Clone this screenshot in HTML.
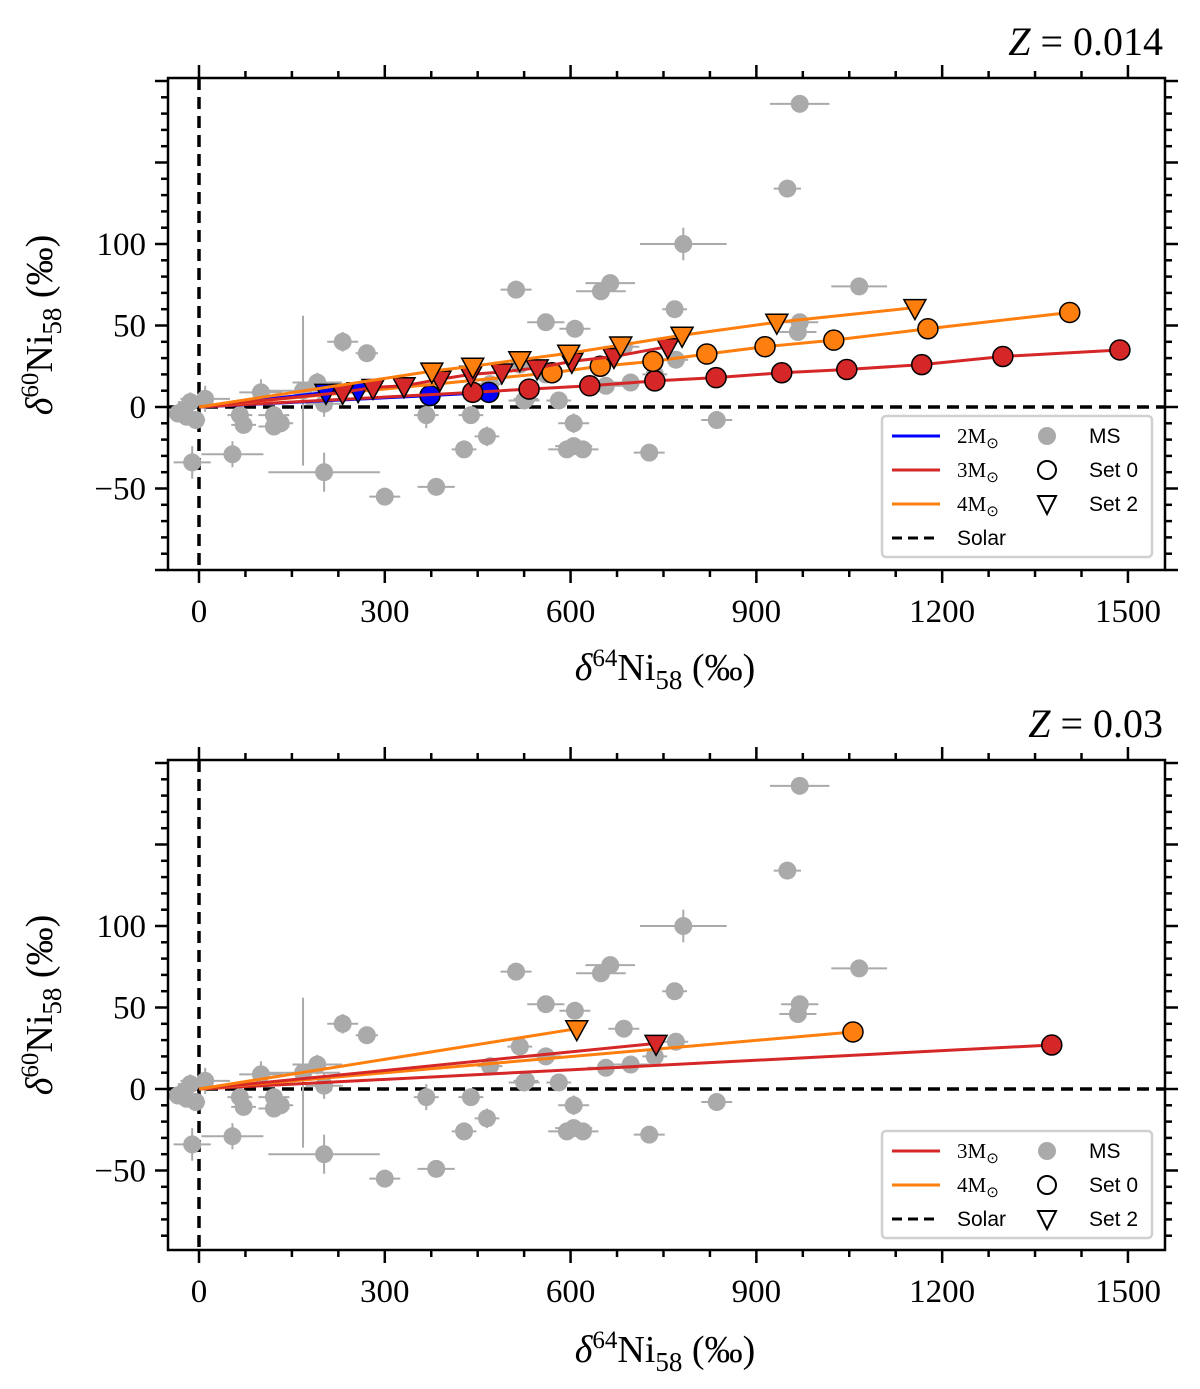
<!DOCTYPE html>
<html><head><meta charset="utf-8">
<style>
html,body{margin:0;padding:0;background:#fff;}
svg{display:block;}
.tick{font-family:"Liberation Serif",serif;font-size:33px;fill:#000;}
.lg{font-family:"Liberation Sans",sans-serif;font-size:21px;fill:#000;}
.lgs{font-family:"Liberation Serif",serif;font-size:21px;fill:#000;}
</style></head>
<body>
<svg id="fig" width="1200" height="1389" viewBox="0 0 1200 1389" xmlns="http://www.w3.org/2000/svg"></svg>
<script>
// MS grain data (shared by both panels): x, y, xerr, yerr
const msX = [970,950,782,1066,512,664,649,768,560,607,970,967,232,271,100,191,168,-14,-20,-34,66,72,121,132,121,202,-11,54,202,300,383,367,439,465,428,605,594,605,620,727,581,525,657,697,770,836,518,560,470,528,686,736,-25,-5,10];
const msY = [186,134,100,74,72,76,71,60,52,48,52,46,40,33,9,15,10,3,-6,-4,-5,-11,-12,-10,-5,2,-34,-29,-40,-55,-49,-5,-5,-18,-26,-10,-26,-24,-26,-28,4,4,13,15,29,-8,26,20,14,5,37,20,-2,-8,5];
const msXerr = [48,22,70,45,25,40,40,20,30,25,30,30,25,18,35,40,60,20,20,15,20,20,25,20,25,30,30,50,90,25,30,20,20,20,20,25,30,30,25,25,20,25,30,30,20,25,20,25,20,20,25,20,15,15,40];
const msYerr = [5,4,10,4,3,4,4,3,3,3,4,4,6,4,8,6,46,6,4,4,4,4,4,4,4,8,10,8,12,4,4,8,5,6,4,6,4,4,4,4,4,4,4,4,4,4,4,4,4,4,4,4,5,5,8];

// Panel 1 (Z = 0.014) model predictions
const p1Blue0X = [373,468];            const p1Blue0Y = [7,9];
const p1Blue2X = [205,257];            const p1Blue2Y = [9,10];
const p1Red0X = [442,533,631,736,835,941,1046,1167,1298,1487];
const p1Red0Y = [9,11,13,16,18,21,23,26,31,35];
const p1Red2X = [232,281,331,389,439,489,546,602,670,757];
const p1Red2Y = [9,12,13,17,20,21.5,24,28,31,37];
const p1Or0X = [570,648,733,820,914,1025,1177,1406];
const p1Or0Y = [21,25,28,32.5,37,41,48,58];
const p1Or2X = [376,442,518,597,681,780,933,1156];
const p1Or2Y = [22,25,29,33,38,44,52,61];

// Panel 2 (Z = 0.03)
const p2Red0X = [1377];  const p2Red0Y = [27];
const p2Red2X = [738];   const p2Red2Y = [28];
const p2Or0X = [1056];   const p2Or0Y = [35];
const p2Or2X = [610];    const p2Or2Y = [37];

const xTicks = [0,300,600,900,1200,1500];
const yTicks = [-50,0,50,100];

const NS = "http://www.w3.org/2000/svg";
const svg = document.getElementById('fig');
function mk(tag, attrs, parent){const e=document.createElementNS(NS,tag);for(const k in attrs)e.setAttribute(k,attrs[k]);(parent||svg).appendChild(e);return e;}

const RED="#d62728", ORANGE="#ff7f0e", BLUE="#0000ff", GREY="#aaaaaa";

function panel(top, bottom, name){
  const L=168,R=1165;
  const sx=v=>199+v*0.6193;
  const sy=v=>(top+329)-v*1.63;
  const g=mk('g',{});
  
  
  const v0=mk('line',{x1:sx(0),x2:sx(0),y1:top,y2:bottom,stroke:'#000','stroke-width':3.5,'stroke-dasharray':'12,7'},g);
  
  
  const h0=mk('line',{x1:L,x2:R,y1:sy(0),y2:sy(0),stroke:'#000','stroke-width':3.5,'stroke-dasharray':'12,7'},g);
  
  
  const ms=mk('g',{},g);
  
  
  for(let i=0;i<msX.length;i++){
    const cx=sx(msX[i]), cy=sy(msY[i]);
    mk('line',{x1:sx(msX[i]-msXerr[i]),x2:sx(msX[i]+msXerr[i]),y1:cy,y2:cy,stroke:GREY,'stroke-width':2},ms);
    mk('line',{x1:cx,x2:cx,y1:sy(msY[i]-msYerr[i]),y2:sy(msY[i]+msYerr[i]),stroke:GREY,'stroke-width':2},ms);
    const c=mk('circle',{cx:cx,cy:cy,r:9,fill:GREY},ms);
    
    
  }
  return {g,sx,sy,L,R};
}

function series(P, xs, ys, color, marker, name){
  const g=mk('g',{},P.g);
  
  
  let pts=[[P.sx(0),P.sy(0)]];
  for(let i=0;i<xs.length;i++) pts.push([P.sx(xs[i]),P.sy(ys[i])]);
  mk('polyline',{points:pts.map(p=>p.join(',')).join(' '),fill:'none',stroke:color,'stroke-width':3},g);
  for(let i=0;i<xs.length;i++){
    const x=P.sx(xs[i]), y=P.sy(ys[i]);
    let m;
    if(marker==='o') m=mk('circle',{cx:x,cy:y,r:10,fill:color,stroke:'#000','stroke-width':1.5},g);
    else m=mk('polygon',{points:`${x-11},${y-8} ${x+11},${y-8} ${x},${y+12}`,fill:color,stroke:'#000','stroke-width':1.5},g);
    
    
  }
}

function axes(P, top, bottom, title, ylabelY, xlabelY){
  const {L,R,sx,sy}=P;
  const fr=mk('rect',{x:L,y:top,width:R-L,height:bottom-top,fill:'none',stroke:'#000','stroke-width':2.5});
  
  
  for(let v=-75;v<=1575;v+=75){
    const x=sx(v); if(x<L||x>R) continue;
    const major=(v%300===0);
    const len=major?13:7;
    mk('line',{x1:x,x2:x,y1:bottom,y2:bottom+len,stroke:'#000','stroke-width':2.5});
    mk('line',{x1:x,x2:x,y1:top,y2:top-len,stroke:'#000','stroke-width':2.5});
  }
  xTicks.forEach(v=>{
    const t=mk('text',{x:sx(v),y:bottom+52,'text-anchor':'middle',class:'tick'});
    t.textContent=String(v);
    
    
  });
  for(let v=-100;v<=200;v+=10){
    const y=sy(v); if(y<top-0.5||y>bottom+0.5) continue;
    const major=(v%50===0);
    const len=major?13:7;
    mk('line',{x1:L,x2:L-len,y1:y,y2:y,stroke:'#000','stroke-width':2.5});
    mk('line',{x1:R,x2:R+len,y1:y,y2:y,stroke:'#000','stroke-width':2.5});
  }
  yTicks.forEach(v=>{
    const t=mk('text',{x:L-22,y:sy(v)+11,'text-anchor':'end',class:'tick'});
    t.textContent=(v<0?'\u2212'+(-v):String(v));
    
    
  });
  const tt=mk('text',{x:1163,y:top-23,'text-anchor':'end',class:'tick',style:'font-size:40px'});
  tt.innerHTML='<tspan font-style="italic">Z</tspan> = '+title;
  
  
  const xl=mk('text',{x:665,y:xlabelY,'text-anchor':'middle',class:'tick',style:'font-size:38px'});
  xl.innerHTML='<tspan font-style="italic">δ</tspan><tspan dy="-14" style="font-size:25px">64</tspan><tspan dy="14">Ni</tspan><tspan dy="9" style="font-size:27px">58</tspan><tspan dy="-9"> (‰)</tspan>';
  
  
  const yl=mk('text',{x:0,y:0,'text-anchor':'middle',class:'tick',style:'font-size:38px',transform:`translate(52,${ylabelY}) rotate(-90)`});
  yl.innerHTML='<tspan font-style="italic">δ</tspan><tspan dy="-14" style="font-size:25px">60</tspan><tspan dy="14">Ni</tspan><tspan dy="9" style="font-size:27px">58</tspan><tspan dy="-9"> (‰)</tspan>';
  
  
}

function legend(x,y,w,h,lines){
  const g=mk('g',{});
  
  
  mk('rect',{x:x,y:y,width:w,height:h,rx:4,fill:'#fff','fill-opacity':0.85,stroke:'#d0d0d0','stroke-width':2.5},g);
  const markers=[['ms','MS'],['o','Set 0'],['v','Set 2']];
  lines.forEach((ln,i)=>{
    const yy=y+20+i*34;
    const e=mk('g',{},g);
    
    
    mk('line',{x1:x+10,x2:x+58,y1:yy,y2:yy,stroke:ln[0],'stroke-width':3,'stroke-dasharray':ln[2]?'10,6':'none'},e);
    const t=mk('text',{x:x+75,y:yy+7,class:ln[2]?'lg':'lgs'},e);
    if(ln[2]) t.textContent=ln[1];
    else t.innerHTML=ln[1]+'M<tspan dy="5" style="font-size:15px">⊙</tspan>';
    if(i<markers.length){
      const mx=x+165;
      if(markers[i][0]==='ms') mk('circle',{cx:mx,cy:yy,r:9,fill:GREY},e);
      else if(markers[i][0]==='o') mk('circle',{cx:mx,cy:yy,r:9,fill:'none',stroke:'#000','stroke-width':2},e);
      else mk('polygon',{points:`${mx-9},${yy-8} ${mx+9},${yy-8} ${mx},${yy+10}`,fill:'none',stroke:'#000','stroke-width':2},e);
      const mt=mk('text',{x:x+207,y:yy+7,class:'lg'},e);
      mt.textContent=markers[i][1];
    }
  });
}

const T1=78,B1=570;
const P1=panel(T1,B1,'panel-z0014');
series(P1,p1Blue0X,p1Blue0Y,BLUE,'o','blue-2msun-set0');
series(P1,p1Red0X,p1Red0Y,RED,'o','red-3msun-set0');
series(P1,p1Or0X,p1Or0Y,ORANGE,'o','orange-4msun-set0');
series(P1,p1Blue2X,p1Blue2Y,BLUE,'v','blue-2msun-set2');
series(P1,p1Red2X,p1Red2Y,RED,'v','red-3msun-set2');
series(P1,p1Or2X,p1Or2Y,ORANGE,'v','orange-4msun-set2');
axes(P1,T1,B1,'0.014',325,680);
legend(882,416,270,141,[[BLUE,'2'],[RED,'3'],[ORANGE,'4'],['#000','Solar',true]]);

const T2=760,B2=1250;
const P2=panel(T2,B2,'panel-z003');
series(P2,p2Red0X,p2Red0Y,RED,'o','red-3msun-set0');
series(P2,p2Or0X,p2Or0Y,ORANGE,'o','orange-4msun-set0');
series(P2,p2Red2X,p2Red2Y,RED,'v','red-3msun-set2');
series(P2,p2Or2X,p2Or2Y,ORANGE,'v','orange-4msun-set2');
axes(P2,T2,B2,'0.03',1005,1362);
legend(882,1131,270,107,[[RED,'3'],[ORANGE,'4'],['#000','Solar',true]]);
</script>
</body></html>
